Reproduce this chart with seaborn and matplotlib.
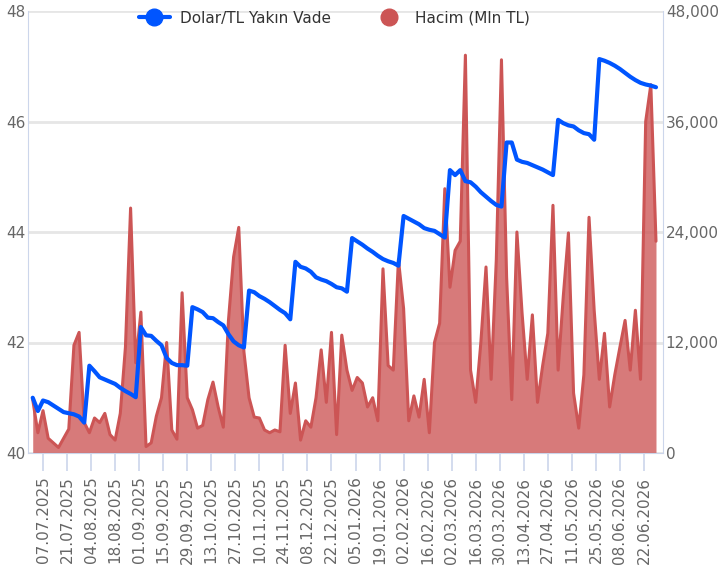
import matplotlib
matplotlib.use('Agg')
import matplotlib.pyplot as plt
import matplotlib.dates as mdates
from matplotlib.lines import Line2D
import seaborn as sns
import pandas as pd

# Veriler (3 gunluk aralik)
baslangic = '2025-07-01'
bitis = '2026-06-29'

dolar_tl = [41.00, 40.76, 40.95, 40.92, 40.86, 40.80, 40.74, 40.72, 40.70, 40.66,
            40.55, 41.58, 41.48, 41.37, 41.33, 41.29, 41.25, 41.18, 41.12, 41.07,
            41.01, 42.28, 42.13, 42.12, 42.03, 41.95, 41.72, 41.63, 41.59, 41.59,
            41.58, 42.64, 42.60, 42.55, 42.45, 42.44, 42.37, 42.31, 42.15, 42.02,
            41.95, 41.91, 42.94, 42.91, 42.84, 42.79, 42.73, 42.66, 42.59, 42.53,
            42.42, 43.46, 43.37, 43.34, 43.28, 43.18, 43.14, 43.11, 43.06, 43.00,
            42.98, 42.92, 43.89, 43.83, 43.77, 43.70, 43.64, 43.57, 43.51, 43.47,
            43.44, 43.39, 44.29, 44.24, 44.19, 44.14, 44.07, 44.04, 44.02, 43.96,
            43.90, 45.12, 45.03, 45.12, 44.92, 44.90, 44.82, 44.72, 44.64, 44.56,
            44.49, 44.46, 45.62, 45.62, 45.31, 45.27, 45.25, 45.21, 45.17, 45.13,
            45.08, 45.03, 46.03, 45.97, 45.93, 45.91, 45.84, 45.79, 45.77, 45.67,
            47.13, 47.10, 47.06, 47.01, 46.95, 46.88, 46.81, 46.75, 46.70, 46.67,
            46.65, 46.62]

hacim = [5800, 2200, 4600, 1600, 1100, 600, 1600, 2600, 11700, 13100,
         3300, 2200, 3800, 3300, 4300, 2000, 1400, 4300, 11500, 26600,
         9800, 15300, 700, 1100, 4000, 6000, 12000, 2500, 1500, 17400,
         6000, 4700, 2700, 3000, 5800, 7700, 5000, 2800, 14400, 21300,
         24500, 11000, 6000, 3900, 3800, 2500, 2200, 2500, 2300, 11700,
         4300, 7600, 1400, 3500, 2800, 6000, 11200, 5500, 13100, 2000,
         12800, 9000, 6800, 8200, 7600, 5000, 6000, 3500, 20000, 9500,
         9000, 21000, 15700, 3500, 6200, 3900, 8000, 2200, 12000, 14100,
         28700, 18000, 22000, 23000, 43200, 9000, 5500, 12000, 20200, 8000,
         21000, 42700, 19100, 5800, 24000, 15200, 8000, 15000, 5500, 9500,
         13000, 26900, 9000, 17000, 23900, 6500, 2700, 8500, 25600, 15500,
         8000, 13000, 5000, 8500, 11500, 14400, 9000, 15500, 8000, 36000,
         40000, 23000]

sol_ticks = [40, 42, 44, 46, 48]
sag_ticks = [0, 12000, 24000, 36000, 48000]

MAVI = '#0055ff'
KIRMIZI = '#cc5555'
GRI = '#666666'
EKSEN = '#ccd6eb'

tarihler = pd.date_range(baslangic, bitis, freq='3D')
df = pd.DataFrame({'Tarih': tarihler, 'Dolar': dolar_tl, 'Hacim': hacim})

sns.set_style('white')
plt.rcParams['font.family'] = ['DejaVu Sans']

fig = plt.figure(figsize=(7.19, 5.75), dpi=100)
ax = fig.add_axes([28 / 719, 122 / 575, 635 / 719, 442 / 575])
ax2 = ax.twinx()

# Hacim alani (sag eksen)
ax2.fill_between(df['Tarih'], 0, df['Hacim'], color=KIRMIZI, alpha=0.78, linewidth=0)
sns.lineplot(data=df, x='Tarih', y='Hacim', ax=ax2, color=KIRMIZI, linewidth=2.2)

# Dolar/TL cizgisi (sol eksen)
sns.lineplot(data=df, x='Tarih', y='Dolar', ax=ax, color=MAVI, linewidth=3)

ax.set_zorder(ax2.get_zorder() + 1)
ax.patch.set_visible(False)

ax.set_ylim(40, 48)
ax.set_yticks(sol_ticks)
ax2.set_ylim(0, 48000)
ax2.set_yticks(sag_ticks)
ax2.set_yticklabels([f'{v:,}' for v in sag_ticks])

ax.set_xlim(pd.Timestamp('2025-06-28 06:00'), pd.Timestamp('2026-07-03 02:00'))
ax.set_xticks(pd.date_range('2025-07-07', '2026-06-22', freq='14D'))
ax.xaxis.set_major_formatter(mdates.DateFormatter('%d.%m.%Y'))
plt.setp(ax.get_xticklabels(), rotation=90, ha='center', va='top')

ax.grid(False)
ax2.grid(axis='y', color='#e6e6e6', linewidth=2)
ax2.grid(axis='x', visible=False)

for a in (ax, ax2):
    a.set_xlabel('')
    a.set_ylabel('')
    a.spines['top'].set_visible(False)
ax.spines['right'].set_visible(False)
ax.spines['left'].set_color(EKSEN)
ax.spines['bottom'].set_color(EKSEN)
ax2.spines['left'].set_visible(False)
ax2.spines['bottom'].set_visible(False)
ax2.spines['right'].set_color(EKSEN)

ax.tick_params(axis='y', length=0, pad=2, labelsize=11, labelcolor=GRI)
ax2.tick_params(axis='y', length=0, pad=2, labelsize=11, labelcolor=GRI)
ax.tick_params(axis='x', length=13, width=1.2, color=EKSEN, pad=4,
               labelsize=11, labelcolor=GRI, bottom=True)

# Lejant
tutamaclar = [
    Line2D([], [], color=MAVI, linewidth=3, marker='o', markersize=12),
    Line2D([], [], color=KIRMIZI, linestyle='none', marker='o', markersize=12),
]
ax.legend(tutamaclar, ['Dolar/TL Yakın Vade', 'Hacim (Mln TL)'],
          loc='center', bbox_to_anchor=(0.483, 0.984), ncol=2, frameon=False,
          fontsize=11, labelcolor='#333333', handlelength=2.0,
          handletextpad=0.7, columnspacing=2.8, numpoints=1)

fig.savefig('out.png', dpi=100)
